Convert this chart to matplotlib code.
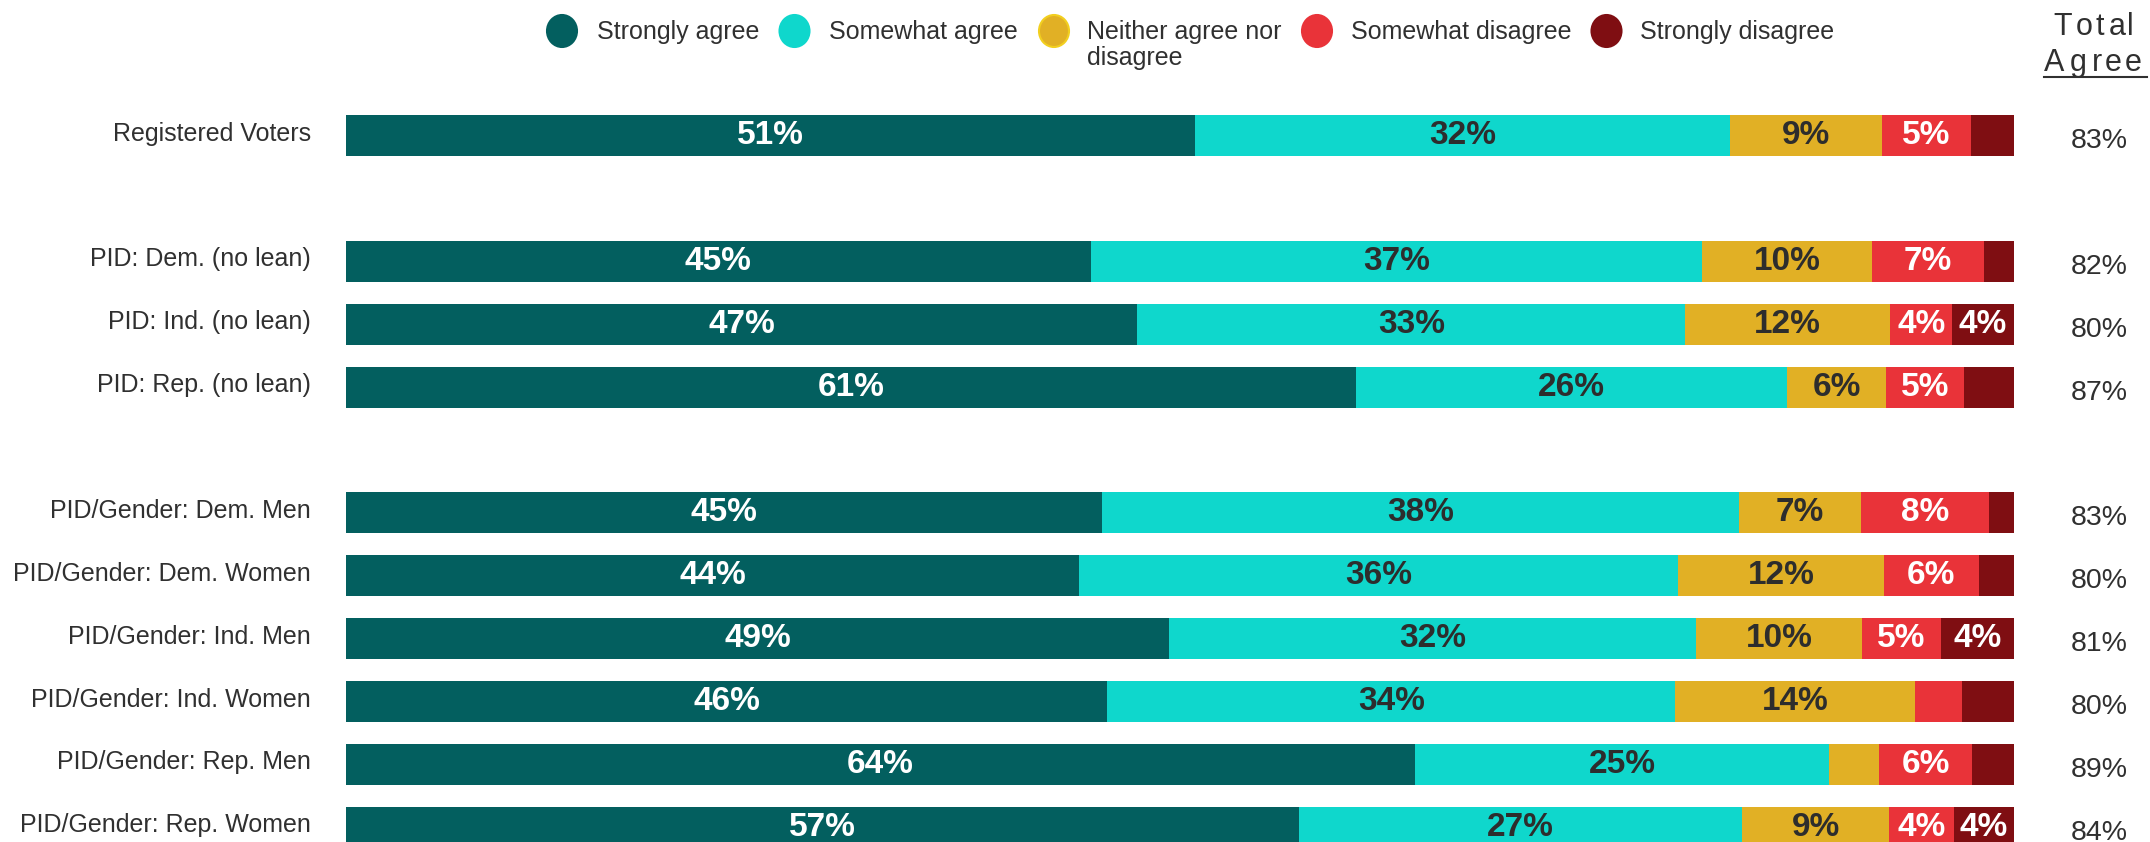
import matplotlib
matplotlib.use('Agg')
import matplotlib.pyplot as plt
import matplotlib.transforms as mtrans
from matplotlib.patches import Ellipse
from matplotlib.lines import Line2D

plt.rcParams['font.family'] = ['Liberation Sans', 'DejaVu Sans']

# ---------------- data ----------------
categories = [
    "Registered Voters",
    "PID: Dem. (no lean)", "PID: Ind. (no lean)", "PID: Rep. (no lean)",
    "PID/Gender: Dem. Men", "PID/Gender: Dem. Women", "PID/Gender: Ind. Men",
    "PID/Gender: Ind. Women", "PID/Gender: Rep. Men", "PID/Gender: Rep. Women",
]
group_sizes = [1, 3, 6]
series_names = ["Strongly agree", "Somewhat agree", "Neither agree nor\ndisagree",
                "Somewhat disagree", "Strongly disagree"]
strongly_agree = [50.9, 44.7, 47.4, 60.6, 45.3, 43.9, 49.4, 45.6, 64.1, 57.2]
somewhat_agree = [32.1, 36.7, 32.8, 25.9, 38.2, 35.9, 31.6, 34.0, 24.8, 26.6]
neither = [9.1, 10.2, 12.3, 5.9, 7.3, 12.3, 10.0, 14.4, 3.0, 8.8]
somewhat_disagree = [5.3, 6.7, 3.7, 4.7, 7.7, 5.7, 4.7, 2.8, 5.6, 3.9]
strongly_disagree = [2.6, 1.8, 3.7, 3.0, 1.5, 2.1, 4.4, 3.1, 2.5, 3.6]
total_agree = [83, 82, 80, 87, 83, 80, 81, 80, 89, 84]

# ---------------- style ----------------
colors = ["#035f5f", "#0fd7cc", "#e1b025", "#e93339", "#7f0e12"]
label_colors = ["white", "#2d2d2d", "#2d2d2d", "white", "white"]
TXT = "#303030"

W, H = 2150, 842
PITCH = 62.9
FIRST = 135.5

fig = plt.figure(figsize=(W / 100, H / 100), dpi=100)
ax = fig.add_axes([346 / W, 0, 1668 / W, 1])
ax.set_xlim(0, 100)
ax.set_ylim((H - FIRST) / PITCH, -FIRST / PITCH)
ax.axis('off')

# row positions with blank rows between groups
pos = []
p = 0
for gi, n in enumerate(group_sizes):
    if gi > 0:
        p += 1
    for k in range(n):
        pos.append(p)
        p += 1

series = [strongly_agree, somewhat_agree, neither, somewhat_disagree, strongly_disagree]
row_sums = [sum(s[i] for s in series) for i in range(len(categories))]
lefts = [0.0] * len(categories)
for si, s in enumerate(series):
    widths = [s[i] / row_sums[i] * 100 for i in range(len(categories))]
    ax.barh(pos, widths, left=lefts, height=41 / PITCH, color=colors[si], linewidth=0)
    for i in range(len(categories)):
        r = round(s[i])
        if r >= 4:
            ax.text(lefts[i] + widths[i] / 2, pos[i] + 8.5 / PITCH, f"{r}%",
                    ha='center', va='baseline', fontsize=24, fontweight='bold',
                    color=label_colors[si])
    lefts = [lefts[i] + widths[i] for i in range(len(categories))]

trans = mtrans.blended_transform_factory(fig.transFigure, ax.transData)
for i, cat in enumerate(categories):
    ax.text(311 / W, pos[i] + 5 / PITCH, cat, transform=trans, ha='right',
            va='baseline', fontsize=18, color=TXT)
    ax.text(2099.5 / W, pos[i] + 12.5 / PITCH, f"{total_agree[i]}%", transform=trans,
            ha='center', va='baseline', fontsize=20.5, color=TXT)

# ---------------- legend ----------------
marker_x = [562, 794.5, 1054, 1317, 1606.5]
text_x = [597, 829, 1087, 1350.7, 1640]
for k in range(5):
    ec = "#f2cf1f" if k == 2 else colors[k]
    fig.add_artist(Ellipse((marker_x[k] / W, 1 - 31 / H), 30 / W, 32 / H,
                           transform=fig.transFigure, facecolor=colors[k],
                           edgecolor=ec, linewidth=1.5))
    for li, line in enumerate(series_names[k].split("\n")):
        fig.text(text_x[k] / W, 1 - (39.3 + 25.7 * li) / H, line, ha='left',
                 va='baseline', fontsize=18, color=TXT)

# ---------------- header "Total Agree" (letter-spaced) ----------------
for ch, cx in zip("Total", [2062.7, 2083.7, 2100, 2117.3, 2130]):
    fig.text(cx / W, 1 - 35 / H, ch, ha='center', va='baseline', fontsize=22, color=TXT)
for ch, cx in zip("Agree", [2054.3, 2078, 2096.7, 2112.7, 2133.3]):
    fig.text(cx / W, 1 - 70.7 / H, ch, ha='center', va='baseline', fontsize=22, color=TXT)
fig.add_artist(Line2D([2044 / W, 2147 / W], [1 - 77.3 / H, 1 - 77.3 / H],
                      transform=fig.transFigure, color=TXT, linewidth=1.5))

fig.savefig("out.png", dpi=100)
